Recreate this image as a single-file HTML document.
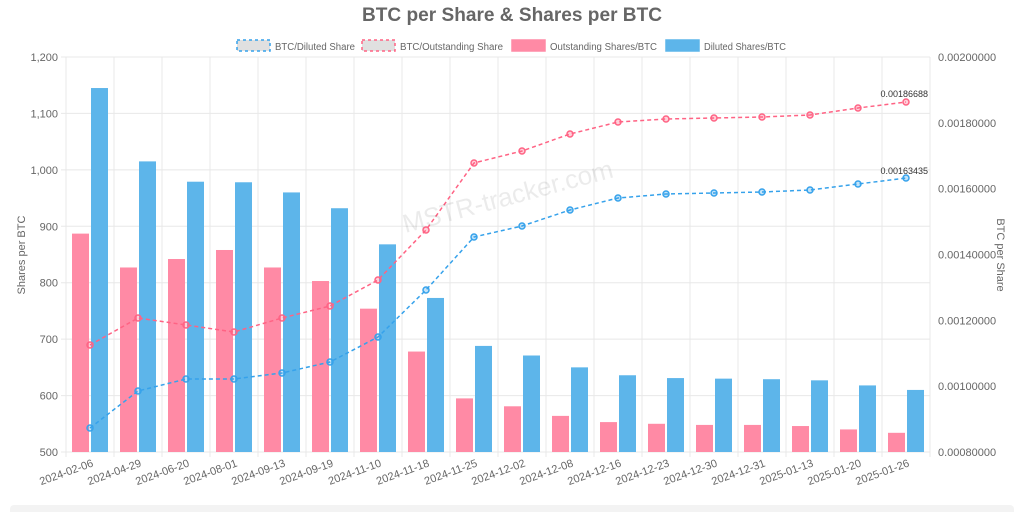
<!DOCTYPE html>
<html><head><meta charset="utf-8"><style>
body{margin:0;background:#fff;width:1024px;height:512px;overflow:hidden;font-family:"Liberation Sans",sans-serif}
</style></head><body>
<svg id="s" width="1024" height="512" xmlns="http://www.w3.org/2000/svg" font-family="Liberation Sans, sans-serif"></svg>
<script>
const s=document.getElementById('s');let h='';
const L=66,R=930,T=57,B=452,W=48;
h+=`<rect x="10" y="505" width="1004" height="10" rx="4" fill="#f3f3f3"/>`;
h+=`<text x="512" y="21" text-anchor="middle" font-size="19" font-weight="bold" fill="#666" textLength="300" lengthAdjust="spacingAndGlyphs">BTC per Share &amp; Shares per BTC</text>`;
// legend
const lg=[[237,'BTC/Diluted Share','#e0e0e0','#36a2eb',1,80],[362,'BTC/Outstanding Share','#e0e0e0','#ff6384',1,103],[512,'Outstanding Shares/BTC','#ff8aa5','#ff8aa5',0,107],[666,'Diluted Shares/BTC','#5db5ea','#5db5ea',0,82]];
lg.forEach(([x,t,f,st,d,w])=>{h+=`<rect x="${x}" y="40" width="33" height="11" fill="${f}" stroke="${st}" stroke-width="1.5" ${d?'stroke-dasharray="3,3"':''}/><text x="${x+38}" y="50" font-size="10" fill="#666" textLength="${w}" lengthAdjust="spacingAndGlyphs">${t}</text>`});
// grid
for(let i=0;i<=7;i++){const y=T+(B-T)*i/7;h+=`<line x1="${L-5}" x2="${R}" y1="${y}" y2="${y}" stroke="#e8e8e8"/><text x="${L-8}" y="${y+4}" text-anchor="end" font-size="11" fill="#666">${(1200-100*i).toLocaleString('en-US')}</text>`}
for(let i=0;i<=6;i++){const y=T+(B-T)*i/6;h+=`<text x="${R+8}" y="${y+4}" font-size="11" fill="#666">${(0.002-0.0002*i).toFixed(8)}</text>`}
for(let i=0;i<=18;i++){const x=L+W*i;h+=`<line x1="${x}" x2="${x}" y1="${T}" y2="${B+5}" stroke="#e8e8e8"/>`}
h+=`<text transform="translate(25,255) rotate(-90)" text-anchor="middle" font-size="11" fill="#666">Shares per BTC</text>`;
h+=`<text transform="translate(997,255) rotate(90)" text-anchor="middle" font-size="11" fill="#666">BTC per Share</text>`;
const d=['2024-02-06','2024-04-29','2024-06-20','2024-08-01','2024-09-13','2024-09-19','2024-11-10','2024-11-18','2024-11-25','2024-12-02','2024-12-08','2024-12-16','2024-12-23','2024-12-30','2024-12-31','2025-01-13','2025-01-20','2025-01-26'];
const o=[887,827,842,858,827,803,754,678,595,581,564,553,550,548,548,546,540,534];
const dl=[1145,1015,979,978,960,932,868,773,688,671,650,636,631,630,629,627,618,610];
const yv=v=>B-(v-500)*(B-T)/700;
d.forEach((t,i)=>{const x=L+W*i;
h+=`<rect x="${x+6}" y="${yv(o[i])}" width="17" height="${B-yv(o[i])}" fill="#ff8aa5"/>`;
h+=`<rect x="${x+25}" y="${yv(dl[i])}" width="17" height="${B-yv(dl[i])}" fill="#5db5ea"/>`;
h+=`<text transform="translate(${x+28},${B+14}) rotate(-20)" text-anchor="end" font-size="11" fill="#666">${t}</text>`;});
const p=[345,318,325,332,318,306,280,230,163,151,134,122,119,118,117,115,108,102];
const b=[428,391,379,379,373,362,337,290,237,226,210,198,194,193,192,190,184,178];
[[p,'#ff6384'],[b,'#36a2eb']].forEach(([a,c])=>{h+=`<polyline fill="none" stroke="${c}" stroke-width="1.5" stroke-dasharray="4,3" points="${a.map((y,i)=>(90+48*i)+','+y).join(' ')}"/>`;
a.forEach((y,i)=>h+=`<circle cx="${90+48*i}" cy="${y}" r="3" fill="${c}" fill-opacity="0.3" stroke="${c}" stroke-width="1.5"/>`)});
h+=`<text x="928" y="97" text-anchor="end" font-size="9" fill="#333">0.00186688</text>`;
h+=`<text x="928" y="174" text-anchor="end" font-size="9" fill="#333">0.00163435</text>`;
h+=`<text transform="translate(510,205) rotate(-15)" text-anchor="middle" font-size="26" fill="#000" fill-opacity="0.08">MSTR-tracker.com</text>`;
s.innerHTML=h;
</script>
</body></html>
